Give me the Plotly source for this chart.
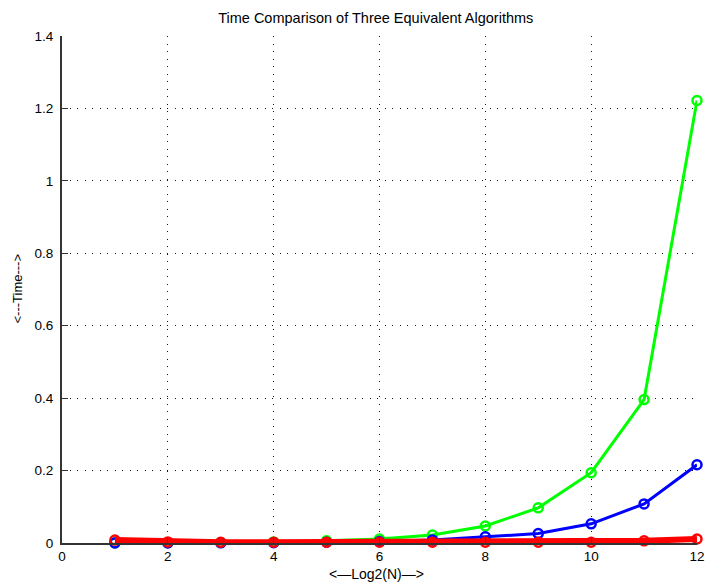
import plotly.graph_objects as go

log2n = [1, 2, 3, 4, 5, 6, 7, 8, 9, 10, 11, 12]
time_green = [0.0004, 0.0008, 0.0015, 0.003, 0.006, 0.011, 0.022, 0.047, 0.097, 0.194, 0.396, 1.222]
time_blue = [0.0001, 0.0003, 0.0005, 0.001, 0.002, 0.004, 0.008, 0.017, 0.026, 0.053, 0.108, 0.216]
time_red = [0.008, 0.003, 0.002, 0.002, 0.002, 0.002, 0.002, 0.002, 0.002, 0.002, 0.006, 0.011]

x_ticks = [0, 2, 4, 6, 8, 10, 12]
y_ticks = [0, 0.2, 0.4, 0.6, 0.8, 1.0, 1.2, 1.4]
y_tick_labels = ["0", "0.2", "0.4", "0.6", "0.8", "1", "1.2", "1.4"]

title_text = "Time Comparison of Three Equivalent Algorithms"
x_label = "<\u2014Log2(N)\u2014>"
y_label = "<---Time--->"

series = [
    (time_green, "#00FF00", 3),
    (time_blue, "#0000FF", 3),
    (time_red, "#FF0000", 6),
]

fig = go.Figure()
for vals, col, w in series:
    fig.add_trace(go.Scatter(
        x=log2n, y=vals, mode="lines+markers",
        line=dict(color=col, width=w),
        marker=dict(symbol="circle-open", size=9, color=col, line=dict(color=col, width=2.5)),
        showlegend=False, cliponaxis=False,
    ))

font = "Liberation Sans, Arial, sans-serif"
axis_style = dict(showgrid=True, gridcolor="#111111", gridwidth=1, griddash="1px,6.5px",
                  zeroline=False, showline=True, linecolor="#333333", linewidth=2,
                  ticks="inside", ticklen=6, tickcolor="#333333", tickwidth=1,
                  tickfont=dict(family=font, size=13.5, color="#000000"))

fig.update_layout(
    width=713, height=585,
    margin=dict(l=62, r=8, t=36, b=42),
    paper_bgcolor="white", plot_bgcolor="white",
    title=dict(text=title_text, xref="container", x=0.527, xanchor="center",
               yref="container", y=0.969, yanchor="middle",
               font=dict(family=font, size=14.5, color="#000000")),
    xaxis=dict(range=[0, 12], tickvals=x_ticks, ticktext=[str(t) for t in x_ticks],
               **axis_style),
    yaxis=dict(range=[0, 1.4], tickvals=y_ticks, ticktext=y_tick_labels,
               ticklabelstandoff=4, **axis_style),
    annotations=[
        dict(text=x_label, xref="paper", yref="paper", x=0.4946, y=-0.0815,
             xanchor="center", yanchor="bottom", showarrow=False,
             font=dict(family=font, size=14, color="#000000")),
        dict(text=y_label, xref="paper", yref="paper", x=-0.070, y=0.501,
             xanchor="center", yanchor="middle", textangle=-90, showarrow=False,
             font=dict(family=font, size=13, color="#000000")),
    ],
)

fig.write_html("out.html", config={"displayModeBar": False},
               post_script="document.body.style.margin='0';document.body.style.overflow='hidden';")
